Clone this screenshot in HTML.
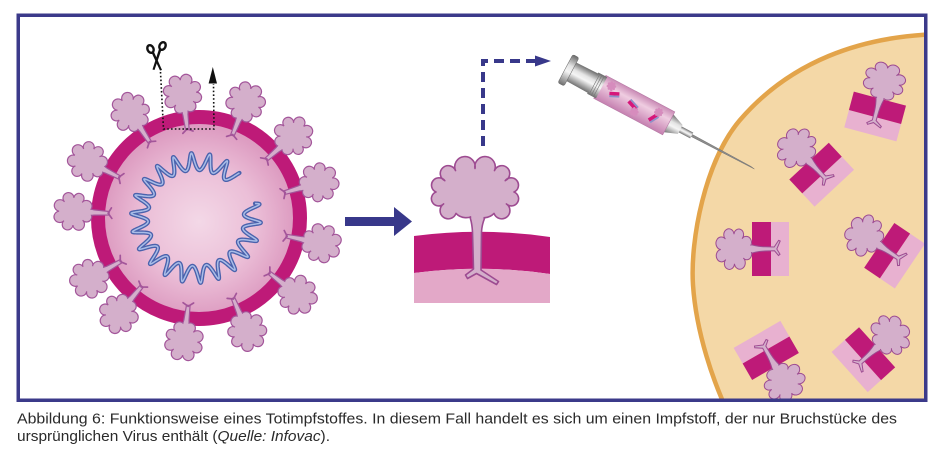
<!DOCTYPE html>
<html><head><meta charset="utf-8"><style>
html,body{margin:0;padding:0;background:#fff;}
body{width:943px;height:466px;overflow:hidden;}
svg{display:block;}
</style></head><body>
<svg width="943" height="466" viewBox="0 0 943 466" xmlns="http://www.w3.org/2000/svg">
<defs>
  <radialGradient id="sph" cx="0.5" cy="0.52" r="0.5">
    <stop offset="0" stop-color="#f3d8e7"/>
    <stop offset="0.6" stop-color="#ebbed7"/>
    <stop offset="1" stop-color="#dd9cc1"/>
  </radialGradient>
  <linearGradient id="metal" x1="0" y1="0" x2="0" y2="1">
    <stop offset="0" stop-color="#6a6a6a"/>
    <stop offset="0.35" stop-color="#e4e4e4"/>
    <stop offset="0.55" stop-color="#f5f5f5"/>
    <stop offset="1" stop-color="#6e6e6e"/>
  </linearGradient>
  <linearGradient id="barrel" x1="0" y1="0" x2="0" y2="1">
    <stop offset="0" stop-color="#c98ab5"/>
    <stop offset="0.35" stop-color="#efcde1"/>
    <stop offset="1" stop-color="#c580b0"/>
  </linearGradient>
  <clipPath id="fc"><rect x="20" y="17" width="904" height="381.5"/></clipPath>
  <path id="bl" vector-effect="non-scaling-stroke" d="M8,0 A3,3 0 1 1 5.57,5.02 A3.3,3.3 0 1 1 0.29,8.19 A3.05,3.05 0 1 1 -4.89,5.82 A3.4,3.4 0 1 1 -7.99,0.28 A3.15,3.15 0 1 1 -5.72,-5.15 A3.35,3.35 0 1 1 -0.29,-8.29 A3.4,3.4 0 1 1 5.37,-5.37 A3.2,3.2 0 1 1 8,0 Z"/>
  <g id="vs" fill="#d4afcb" stroke="#a3559a" stroke-width="1.2">
    <path d="M-1.8,1 L-2.6,-14 C-3,-19 -5,-22 -7,-26 L7,-26 C5,-22 3,-19 2.6,-14 L1.8,1 Z"/>
    <path d="M0,0 L-5,4 M0,0 L5.5,3" fill="none" stroke-width="1.7" stroke-linecap="round"/>
    <use href="#bl" transform="translate(0,-35) scale(1.7)"/>
    <path d="M-5.8,-26 C-4.2,-22 -2.6,-18.5 -1.9,-15 L1.9,-15 C2.6,-18.5 4.2,-22 5.8,-26 Z" stroke="none"/>
  </g>
  <g id="fr">
    <rect x="-27" y="0" width="54" height="18" fill="#e8b1d0"/>
    <rect x="-27" y="-19" width="54" height="19" fill="#be1a78"/>
    <g fill="#d4afcb" stroke="#9d4b91" stroke-width="1">
      <path d="M-5.5,-24 C-3.5,-18 -2.2,-12 -2,-6 L-1.8,3.5 L-6.5,7.5 L-5.3,9 L0,5.8 L8,9.2 L8.6,7.6 L2,3.2 L2.2,-6 C2.4,-12 3.5,-18 5.5,-24 Z"/>
      <use href="#bl" transform="translate(0,-37) scale(1.85,1.6)"/>
      <path d="M-4.8,-25 C-3.4,-21 -2.6,-18 -2.4,-17 L2.6,-17 C2.8,-18 3.6,-21 4.8,-25 Z" stroke="none"/>
    </g>
  </g>
</defs>

<rect x="0" y="0" width="943" height="466" fill="#fff"/>

<!-- Cell -->
<g clip-path="url(#fc)">
  <path d="M940,34 C860,36 790,62 740,120 C705,161 690,240 693,285 C696,330 712,382 734,425 L960,425 L960,34 Z" fill="#f4d8a7" stroke="#e3a44a" stroke-width="4.5"/>
  <use href="#fr" transform="translate(875,117) rotate(15)"/>
  <use href="#fr" transform="translate(822,175) rotate(-43)"/>
  <use href="#fr" transform="translate(771,249) rotate(-90)"/>
  <use href="#fr" transform="translate(895,256) rotate(-56)"/>
  <use href="#fr" transform="translate(766,350) rotate(150)"/>
  <use href="#fr" transform="translate(863,360) rotate(48)"/>
</g>

<!-- Virus -->
<circle cx="199" cy="218" r="95" fill="url(#sph)"/>
<circle cx="199" cy="218" r="101" fill="none" stroke="#be1a78" stroke-width="14"/>
<path id="hA" d="" fill="none" stroke="#4a62ac" stroke-width="4.2" stroke-linejoin="round" stroke-linecap="round"/>
<path id="hB" d="" fill="none" stroke="#a9bde8" stroke-width="1.5" stroke-linejoin="round"/>
<g transform="translate(199,218)">
  <use href="#vs" transform="rotate(-7.5) translate(0,-90)"/>
  <use href="#vs" transform="rotate(22) translate(0,-90)"/>
  <use href="#vs" transform="rotate(49) translate(0,-90)"/>
  <use href="#vs" transform="rotate(73.5) translate(0,-90)"/>
  <use href="#vs" transform="rotate(101.7) translate(0,-90)"/>
  <use href="#vs" transform="rotate(128) translate(0,-90)"/>
  <use href="#vs" transform="rotate(157) translate(0,-88)"/>
  <use href="#vs" transform="rotate(187) translate(0,-89)"/>
  <use href="#vs" transform="rotate(220) translate(0,-90)"/>
  <use href="#vs" transform="rotate(241) translate(0,-90)"/>
  <use href="#vs" transform="rotate(273) translate(0,-91)"/>
  <use href="#vs" transform="rotate(297) translate(0,-90)"/>
  <use href="#vs" transform="rotate(327) translate(0,-91)"/>
</g>

<!-- Scissors + dotted path -->
<g stroke="#111" fill="none" stroke-width="2.4" stroke-linecap="round">
  <ellipse cx="150.5" cy="49" rx="3" ry="4" transform="rotate(-25 150.5 49)"/>
  <ellipse cx="162.5" cy="46" rx="3" ry="4" transform="rotate(25 162.5 46)"/>
</g>
<polygon points="151.5,52.5 154,52 162,70 160,70.5" fill="#111"/>
<polygon points="161.5,49.5 159,49 152.5,69.5 154.5,70" fill="#111"/>
<path d="M160.5,72 L163.5,129 L214,129 L213.5,84" fill="none" stroke="#111" stroke-width="1.6" stroke-dasharray="1.6 2.2"/>
<polygon points="212.8,67 208.6,83.5 217,83.5" fill="#111"/>

<!-- Blue arrow -->
<rect x="345" y="217" width="51" height="9" fill="#38388a"/>
<polygon points="394,207 412,221.5 394,236" fill="#38388a"/>

<!-- Middle panel -->
<path d="M414,236 Q482,227 550,237 L550,274 Q482,264 414,273 Z" fill="#be1a78"/>
<path d="M414,273 Q482,264 550,274 L550,303 L414,303 Z" fill="#e3a8c8"/>
<g fill="#d4afcb" stroke="#9d4b91" stroke-width="1.6" stroke-linejoin="round">
  <path d="M465,206 C470,215 472,222 472.5,232 L473.5,269 L465.5,275 L467.5,278.5 L476.5,273.5 L496.5,284.5 L498.5,281.5 L481,270 L481.5,232 C482,222 486,214 491,206 Z"/>
  <path d="M514,192 A7.2,7.2 0 1 1 506.4,203.9 A8.2,8.2 0 1 1 494,213.4 A14,14 0 0 1 475,214.5 A14,14 0 0 1 456,213.4 A8.2,8.2 0 1 1 443.6,203.9 A7.2,7.2 0 1 1 436,192 A7.4,7.4 0 1 1 444.8,180.7 A7.9,7.9 0 1 1 455.5,170.6 A10.2,10.2 0 1 1 475,168.5 A10.2,10.2 0 1 1 494.5,170.6 A7.9,7.9 0 1 1 505.2,180.7 A7.4,7.4 0 1 1 514,192 Z"/>
  <path d="M467,205 C471,214 473,222 473.6,231 L480.4,231 C481,222 484.5,214 489.5,205 Z" stroke="none"/>
</g>

<!-- Dashed connector -->
<path d="M483,146 L483,61 L538,61" fill="none" stroke="#38388a" stroke-width="4" stroke-dasharray="10 6"/>
<polygon points="535,55.5 551,61 535,66.5" fill="#38388a"/>

<!-- Syringe -->
<g transform="translate(568,70) rotate(27.9)">
  <polygon points="139,-1.2 207,-0.4 211,0.3 139,1.2" fill="#8c8c8c" stroke="#6a6a6a" stroke-width="0.4"/>
  <rect x="126" y="-3.3" width="14" height="6.6" fill="url(#metal)"/>
  <polygon points="113,-10.5 127,-5 127,5 113,10.5" fill="url(#metal)"/>
  <rect x="36" y="-13" width="78" height="26" fill="url(#barrel)" stroke="#b67aa5" stroke-width="0.6"/>
  <rect x="28" y="-12" width="10" height="24" fill="url(#metal)"/>
  <path d="M30,-11.5 V11.5 M32.5,-11.5 V11.5 M35,-11.5 V11.5" stroke="#777" stroke-width="0.6"/>
  <polygon points="4,-10.5 29,-11 29,11 4,10.5" fill="url(#metal)"/>
  <rect x="-3" y="-16" width="7" height="32" rx="2" fill="url(#metal)" stroke="#666" stroke-width="0.5"/>
  <g transform="translate(52,-1) rotate(-25)">
    <rect x="-5" y="-1.5" width="10" height="3.6" fill="#d6177a"/>
    <rect x="-5" y="2.1" width="10" height="1.8" fill="#8e90c8"/>
  </g>
  <use href="#bl" transform="translate(46,-6) scale(0.42)" fill="#d68cbd"/>
  <g transform="translate(74,1) rotate(20)">
    <rect x="-6" y="-1.5" width="11" height="3.6" fill="#d6177a"/>
    <rect x="-6" y="-3.3" width="11" height="1.8" fill="#8e90c8"/>
  </g>
  <use href="#bl" transform="translate(78,6) scale(0.4)" fill="#d68cbd"/>
  <g transform="translate(97,2) rotate(-60)">
    <rect x="-5" y="-1.5" width="10" height="3.6" fill="#d6177a"/>
    <rect x="-5" y="2.1" width="10" height="1.8" fill="#8e90c8"/>
  </g>
  <use href="#bl" transform="translate(100,-5) scale(0.4)" fill="#d68cbd"/>
</g>

<!-- Frame -->
<rect x="18.25" y="15.25" width="907.5" height="385" fill="none" stroke="#3b3a8a" stroke-width="3.5"/>

<!-- Caption -->
<g font-family="'Liberation Sans', 'DejaVu Sans', sans-serif" font-size="14.5" fill="#2a2a2a">
  <text x="17" y="423.5" textLength="880" lengthAdjust="spacingAndGlyphs">Abbildung 6: Funktionsweise eines Totimpfstoffes. In diesem Fall handelt es sich um einen Impfstoff, der nur Bruchstücke des</text>
  <text x="17" y="441" textLength="313" lengthAdjust="spacingAndGlyphs">ursprünglichen Virus enthält (<tspan font-style="italic">Quelle: Infovac</tspan>).</text>
</g>
</svg>
<script>
(function(){
  var cx=196, cy=218, R=56.5, A=8.5, n=22;
  var a0=-47*Math.PI/180, a1=(-47-328)*Math.PI/180;
  var N=900, d='';
  for (var i=0;i<=N;i++){
    var a=a0+(a1-a0)*i/N;
    var w=n*a;
    var r=R+A*Math.sin(w);
    var ts=1.5*Math.cos(w);
    var x=cx+r*Math.cos(a)-ts*Math.sin(a);
    var y=cy+r*Math.sin(a)+ts*Math.cos(a);
    d+=(i?'L':'M')+x.toFixed(2)+','+y.toFixed(2);
  }
  document.getElementById('hA').setAttribute('d',d);
  document.getElementById('hB').setAttribute('d',d);
})();
</script>
</body></html>
